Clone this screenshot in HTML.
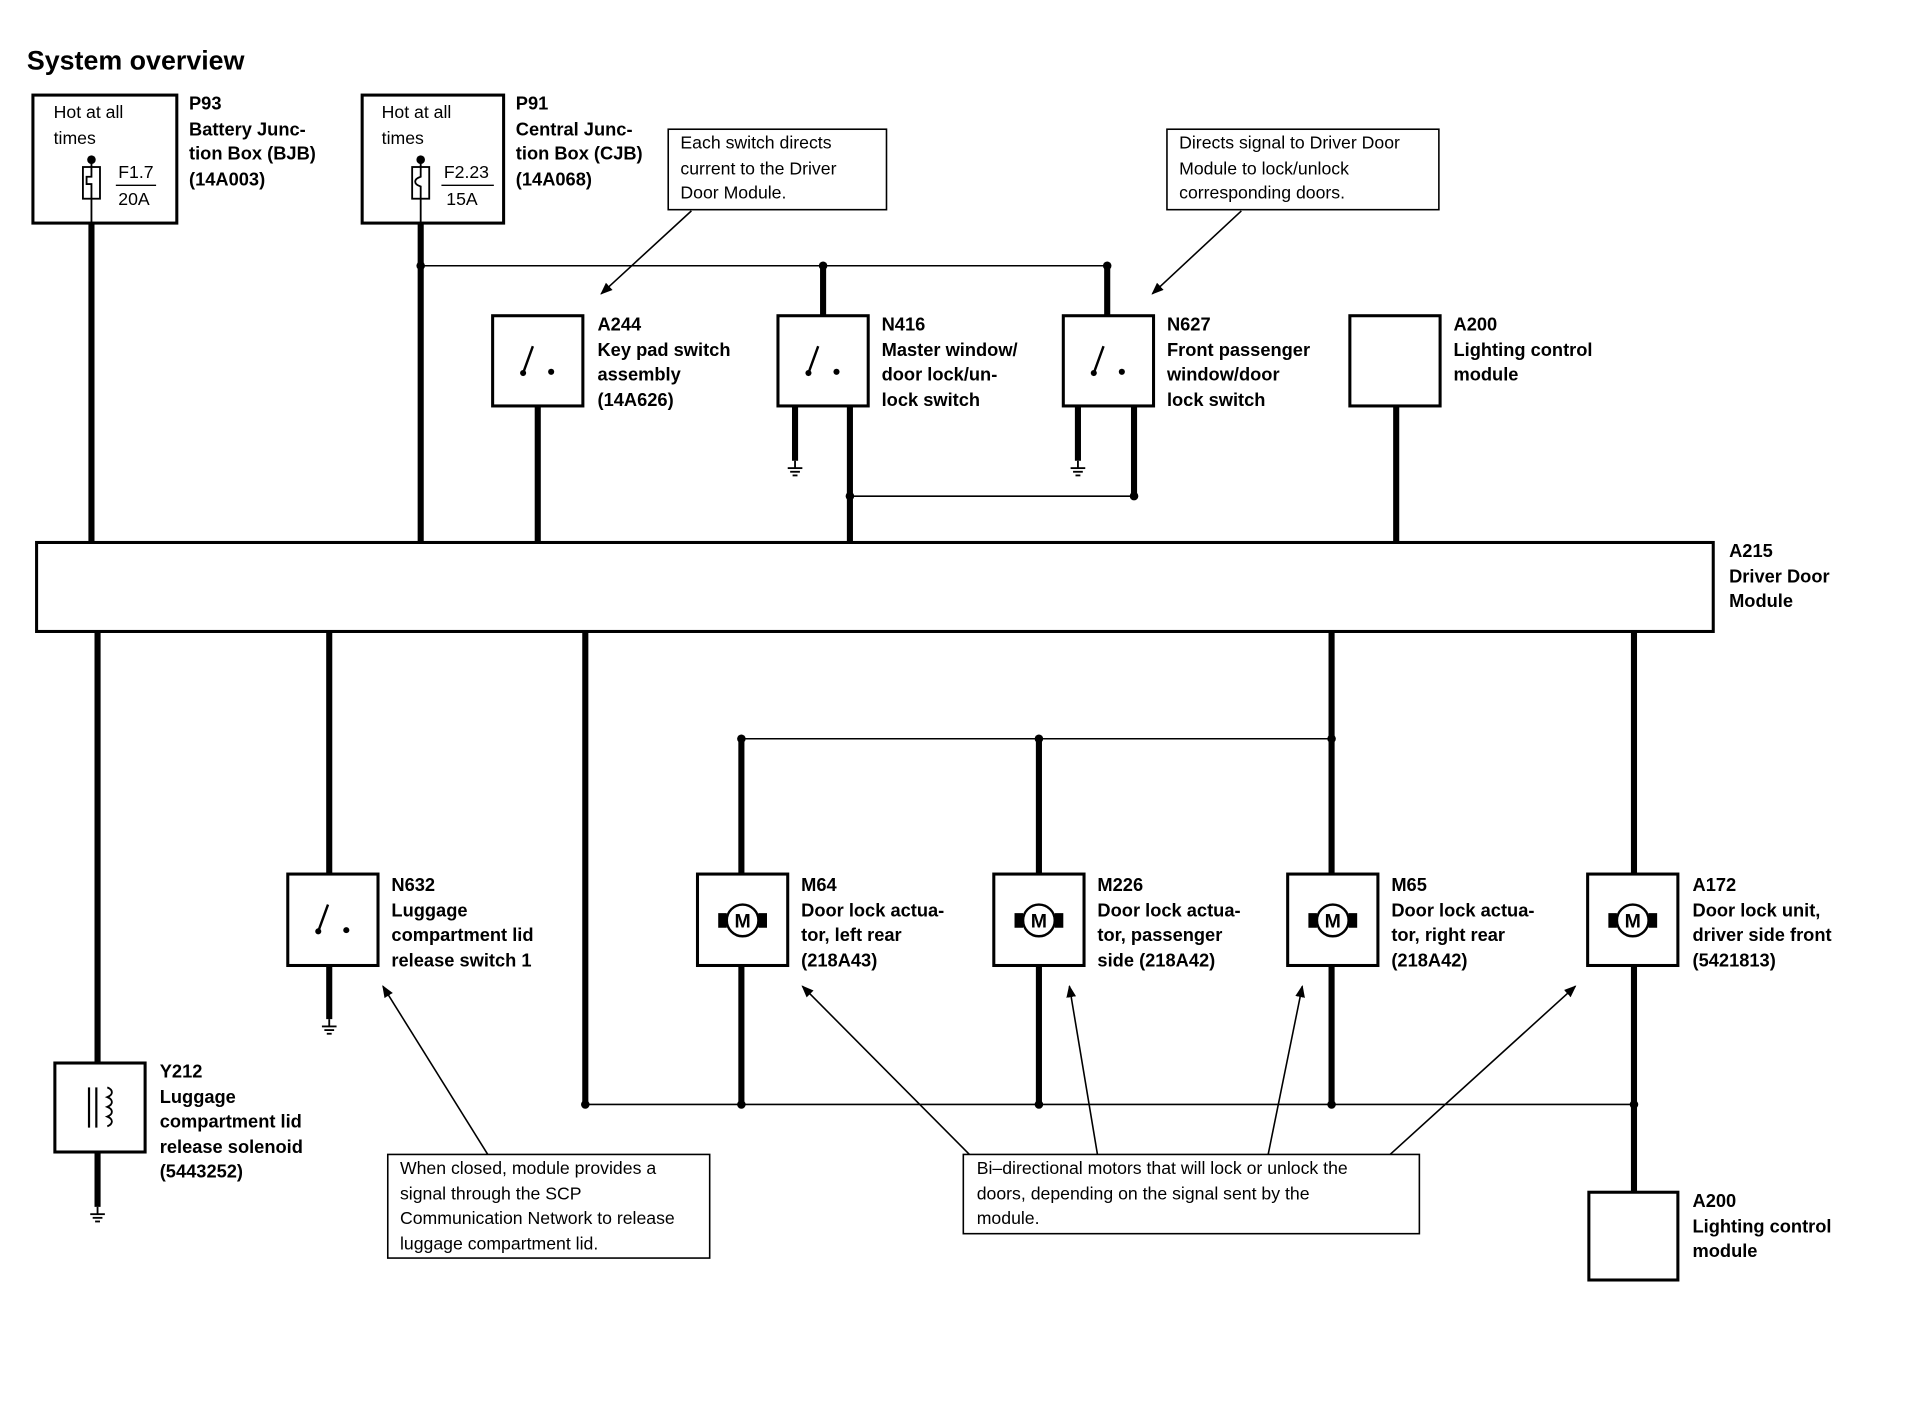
<!DOCTYPE html>
<html><head><meta charset="utf-8"><style>
html,body{margin:0;padding:0;background:#fff;}
svg{display:block;}
text{font-family:"Liberation Sans",Arial,sans-serif;fill:#000;}
.b{font-weight:bold;font-size:15px;}
.n{font-size:14.5px;}
.box{fill:#fff;stroke:#000;stroke-width:2.5;}
.w{stroke:#000;stroke-width:5;fill:none;}
.t{stroke:#000;stroke-width:1.3;fill:none;}
</style></head><body>
<svg width="1912" height="1408" viewBox="0 0 1568 1155" preserveAspectRatio="none" xmlns="http://www.w3.org/2000/svg">
<defs>
<marker id="ar" markerWidth="10" markerHeight="10" refX="9" refY="5" orient="auto" markerUnits="userSpaceOnUse"><path d="M0,1 L10,5 L0,9 Z" fill="#000"/></marker>
<g id="sw"><line x1="-12" y1="10" x2="-4" y2="-12" stroke="#000" stroke-width="2"/><circle cx="-12" cy="10" r="2.5"/><circle cx="11" cy="9" r="2.5"/></g>
<g id="mo"><circle r="13" fill="#fff" stroke="#000" stroke-width="2"/><text x="0" y="6" text-anchor="middle" style="font-size:16px;font-weight:bold">M</text><path d="M-20,-6 L-13,-6 L-13,6 L-20,6 Z M20,-6 L13,-6 L13,6 L20,6 Z" fill="#000"/></g>
<g id="gnd"><line x1="0" y1="0" x2="0" y2="6" stroke="#000" stroke-width="1.5"/><line x1="-6" y1="6" x2="6" y2="6" stroke="#000" stroke-width="1.5"/><line x1="-4" y1="9" x2="4" y2="9" stroke="#000" stroke-width="1.5"/><line x1="-2" y1="12" x2="2" y2="12" stroke="#000" stroke-width="1.5"/></g>
</defs>
<text x="22" y="57" style="font-size:22px;font-weight:bold">System overview</text>

<line class="w" x1="75" y1="160" x2="75" y2="446"/>
<line class="w" x1="345" y1="160" x2="345" y2="446"/>
<line class="t" x1="345" y1="218" x2="908" y2="218"/>
<line class="w" x1="675" y1="218" x2="675" y2="260"/>
<line class="w" x1="908" y1="218" x2="908" y2="260"/>
<line class="w" x1="441" y1="333" x2="441" y2="446"/>
<line class="w" x1="652" y1="333" x2="652" y2="378"/>
<line class="w" x1="697" y1="333" x2="697" y2="446"/>
<line class="w" x1="884" y1="333" x2="884" y2="378"/>
<line class="w" x1="930" y1="333" x2="930" y2="407"/>
<line class="t" x1="697" y1="407" x2="930" y2="407"/>
<line class="w" x1="1145" y1="333" x2="1145" y2="446"/>
<use href="#gnd" x="652" y="378"/><use href="#gnd" x="884" y="378"/>
<circle cx="345" cy="218" r="3.5"/><circle cx="675" cy="218" r="3.5"/><circle cx="908" cy="218" r="3.5"/>
<circle cx="697" cy="407" r="3.5"/><circle cx="930" cy="407" r="3.5"/>

<rect class="box" x="27" y="78" width="118" height="105"/>
<text class="n" x="44" y="97">Hot at all</text><text class="n" x="44" y="118">times</text>
<line x1="75" y1="128" x2="75" y2="183" stroke="#000" stroke-width="1.5"/>
<circle cx="75" cy="131" r="3.5"/>
<rect x="68" y="137" width="14" height="26" fill="#fff" stroke="#000" stroke-width="1.5"/>
<path d="M75,137 v8 h-4 v6 h4 v12" stroke="#000" stroke-width="1.5" fill="none"/>
<text class="n" x="97" y="146">F1.7</text><line x1="95" y1="152" x2="128" y2="152" stroke="#000" stroke-width="1.2"/><text class="n" x="97" y="168">20A</text>
<text class="b" x="155" y="90">P93</text><text class="b" x="155" y="111">Battery Junc-</text><text class="b" x="155" y="131">tion Box (BJB)</text><text class="b" x="155" y="152">(14A003)</text>

<rect class="box" x="297" y="78" width="116" height="105"/>
<text class="n" x="313" y="97">Hot at all</text><text class="n" x="313" y="118">times</text>
<line x1="345" y1="128" x2="345" y2="183" stroke="#000" stroke-width="1.5"/>
<circle cx="345" cy="131" r="3.5"/>
<rect x="338" y="137" width="14" height="26" fill="#fff" stroke="#000" stroke-width="1.5"/>
<path d="M345,137 v8 c-6,2 -6,6 0,8 v10" stroke="#000" stroke-width="1.5" fill="none"/>
<text class="n" x="364" y="146">F2.23</text><line x1="362" y1="152" x2="405" y2="152" stroke="#000" stroke-width="1.2"/><text class="n" x="366" y="168">15A</text>
<text class="b" x="423" y="90">P91</text><text class="b" x="423" y="111">Central Junc-</text><text class="b" x="423" y="131">tion Box (CJB)</text><text class="b" x="423" y="152">(14A068)</text>

<rect x="548" y="106" width="179" height="66" fill="#fff" stroke="#000" stroke-width="1.3"/>
<text class="n" x="558" y="122">Each switch directs</text><text class="n" x="558" y="143">current to the Driver</text><text class="n" x="558" y="163">Door Module.</text>
<line class="t" x1="567" y1="173" x2="493" y2="241" marker-end="url(#ar)"/>
<rect x="957" y="106" width="223" height="66" fill="#fff" stroke="#000" stroke-width="1.3"/>
<text class="n" x="967" y="122">Directs signal to Driver Door</text><text class="n" x="967" y="143">Module to lock/unlock</text><text class="n" x="967" y="163">corresponding doors.</text>
<line class="t" x1="1018" y1="173" x2="945" y2="241" marker-end="url(#ar)"/>

<rect class="box" x="404" y="259" width="74" height="74"/><use href="#sw" x="441" y="296"/>
<text class="b" x="490" y="271">A244</text><text class="b" x="490" y="292">Key pad switch</text><text class="b" x="490" y="312">assembly</text><text class="b" x="490" y="333">(14A626)</text>
<rect class="box" x="638" y="259" width="74" height="74"/><use href="#sw" x="675" y="296"/>
<text class="b" x="723" y="271">N416</text><text class="b" x="723" y="292">Master window/</text><text class="b" x="723" y="312">door lock/un-</text><text class="b" x="723" y="333">lock switch</text>
<rect class="box" x="872" y="259" width="74" height="74"/><use href="#sw" x="909" y="296"/>
<text class="b" x="957" y="271">N627</text><text class="b" x="957" y="292">Front passenger</text><text class="b" x="957" y="312">window/door</text><text class="b" x="957" y="333">lock switch</text>
<rect class="box" x="1107" y="259" width="74" height="74"/>
<text class="b" x="1192" y="271">A200</text><text class="b" x="1192" y="292">Lighting control</text><text class="b" x="1192" y="312">module</text>

<rect class="box" x="30" y="445" width="1375" height="73"/>
<text class="b" x="1418" y="457">A215</text><text class="b" x="1418" y="478">Driver Door</text><text class="b" x="1418" y="498">Module</text>

<line class="w" x1="80" y1="518" x2="80" y2="873"/>
<line class="w" x1="270" y1="518" x2="270" y2="718"/>
<line class="w" x1="480" y1="518" x2="480" y2="906"/>
<line class="w" x1="1092" y1="518" x2="1092" y2="718"/>
<line class="w" x1="1340" y1="518" x2="1340" y2="718"/>
<line class="t" x1="608" y1="606" x2="1092" y2="606"/>
<line class="w" x1="608" y1="606" x2="608" y2="718"/>
<line class="w" x1="852" y1="606" x2="852" y2="718"/>
<circle cx="608" cy="606" r="3.5"/><circle cx="852" cy="606" r="3.5"/><circle cx="1092" cy="606" r="3.5"/>
<line class="w" x1="608" y1="792" x2="608" y2="906"/>
<line class="w" x1="852" y1="792" x2="852" y2="906"/>
<line class="w" x1="1092" y1="792" x2="1092" y2="906"/>
<line class="w" x1="1340" y1="792" x2="1340" y2="979"/>
<line class="t" x1="480" y1="906" x2="1340" y2="906"/>
<circle cx="480" cy="906" r="3.5"/><circle cx="608" cy="906" r="3.5"/><circle cx="852" cy="906" r="3.5"/><circle cx="1092" cy="906" r="3.5"/><circle cx="1340" cy="906" r="3.5"/>
<line class="w" x1="270" y1="792" x2="270" y2="836"/><use href="#gnd" x="270" y="836"/>
<line class="w" x1="80" y1="945" x2="80" y2="990"/><use href="#gnd" x="80" y="990"/>

<rect class="box" x="236" y="717" width="74" height="75"/><use href="#sw" x="273" y="754"/>
<text class="b" x="321" y="731">N632</text><text class="b" x="321" y="752">Luggage</text><text class="b" x="321" y="772">compartment lid</text><text class="b" x="321" y="793">release switch 1</text>

<rect class="box" x="45" y="872" width="74" height="73"/>
<line x1="73" y1="892" x2="73" y2="925" stroke="#000" stroke-width="1.8"/><line x1="79" y1="892" x2="79" y2="925" stroke="#000" stroke-width="1.8"/>
<path d="M88,892 c5,2 5,6 0,8 c5,2 5,6 0,8 c5,2 5,6 0,8 c5,2 5,6 0,8" stroke="#000" stroke-width="1.5" fill="none"/>
<text class="b" x="131" y="884">Y212</text><text class="b" x="131" y="905">Luggage</text><text class="b" x="131" y="925">compartment lid</text><text class="b" x="131" y="946">release solenoid</text><text class="b" x="131" y="966">(5443252)</text>

<rect class="box" x="572" y="717" width="74" height="75"/><use href="#mo" x="609" y="755"/>
<text class="b" x="657" y="731">M64</text><text class="b" x="657" y="752">Door lock actua-</text><text class="b" x="657" y="772">tor, left rear</text><text class="b" x="657" y="793">(218A43)</text>
<rect class="box" x="815" y="717" width="74" height="75"/><use href="#mo" x="852" y="755"/>
<text class="b" x="900" y="731">M226</text><text class="b" x="900" y="752">Door lock actua-</text><text class="b" x="900" y="772">tor, passenger</text><text class="b" x="900" y="793">side (218A42)</text>
<rect class="box" x="1056" y="717" width="74" height="75"/><use href="#mo" x="1093" y="755"/>
<text class="b" x="1141" y="731">M65</text><text class="b" x="1141" y="752">Door lock actua-</text><text class="b" x="1141" y="772">tor, right rear</text><text class="b" x="1141" y="793">(218A42)</text>
<rect class="box" x="1302" y="717" width="74" height="75"/><use href="#mo" x="1339" y="755"/>
<text class="b" x="1388" y="731">A172</text><text class="b" x="1388" y="752">Door lock unit,</text><text class="b" x="1388" y="772">driver side front</text><text class="b" x="1388" y="793">(5421813)</text>

<rect class="box" x="1303" y="978" width="73" height="72"/>
<text class="b" x="1388" y="990">A200</text><text class="b" x="1388" y="1011">Lighting control</text><text class="b" x="1388" y="1031">module</text>

<line class="t" x1="400" y1="947" x2="314" y2="809" marker-end="url(#ar)"/>
<rect x="318" y="947" width="264" height="85" fill="#fff" stroke="#000" stroke-width="1.3"/>
<text class="n" x="328" y="963">When closed, module provides a</text><text class="n" x="328" y="984">signal through the SCP</text><text class="n" x="328" y="1004">Communication Network to release</text><text class="n" x="328" y="1025">luggage compartment lid.</text>
<line class="t" x1="795" y1="947" x2="658" y2="809" marker-end="url(#ar)"/>
<line class="t" x1="900" y1="947" x2="877" y2="809" marker-end="url(#ar)"/>
<line class="t" x1="1040" y1="947" x2="1068" y2="809" marker-end="url(#ar)"/>
<line class="t" x1="1140" y1="947" x2="1292" y2="809" marker-end="url(#ar)"/>
<rect x="790" y="947" width="374" height="65" fill="#fff" stroke="#000" stroke-width="1.3"/>
<text class="n" x="801" y="963">Bi–directional motors that will lock or unlock the</text><text class="n" x="801" y="984">doors, depending on the signal sent by the</text><text class="n" x="801" y="1004">module.</text>
</svg>
</body></html>
